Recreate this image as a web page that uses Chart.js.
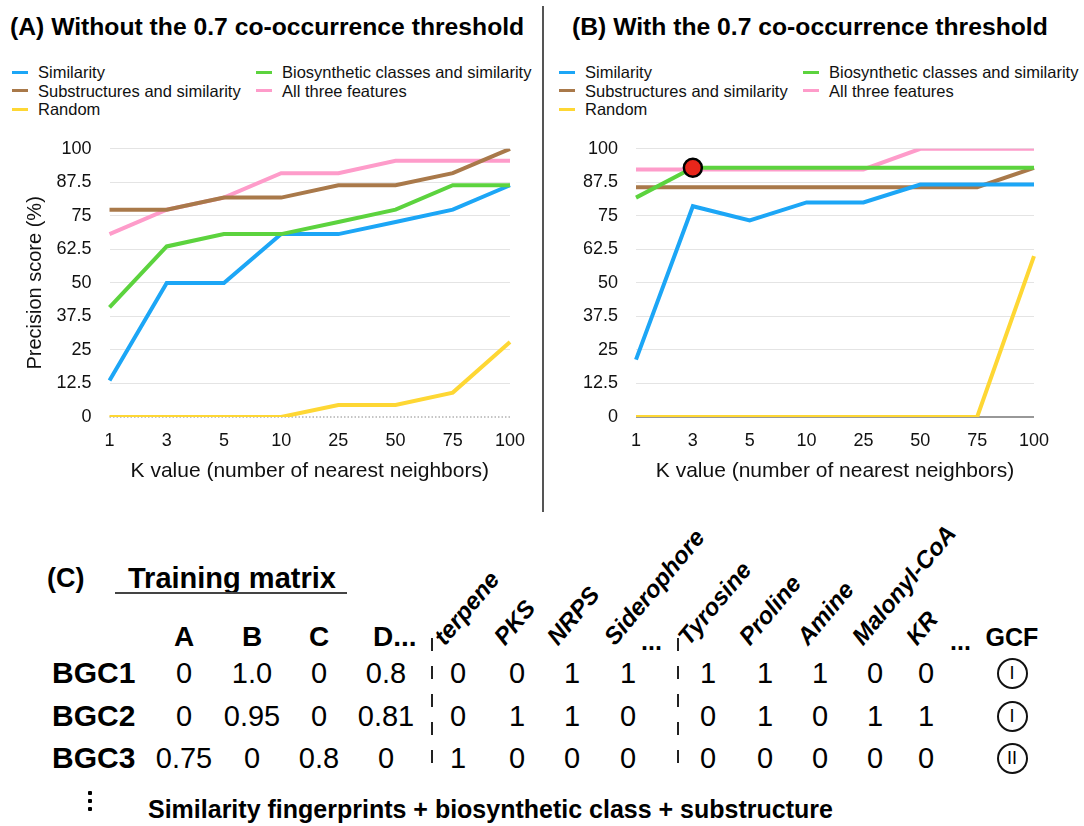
<!DOCTYPE html>
<html>
<head>
<meta charset="utf-8">
<script src="https://cdn.jsdelivr.net/npm/chart.js@4.4.1/dist/chart.umd.min.js"></script>
<style>
  html, body { margin: 0; padding: 0; background: #fff; }
  body { width: 1084px; height: 826px; position: relative; overflow: hidden;
         font-family: "Liberation Sans", Arial, Helvetica, sans-serif; color: #000; }
  .abs { position: absolute; white-space: nowrap; line-height: 1; }
  .panel-title { font-weight: bold; font-size: 24.7px; }
  .legend { position: absolute; display: grid; font-size: 16.5px; line-height: 18.5px; color: #111; }
  .legend .item { display: flex; align-items: center; white-space: nowrap; }
  .legend .sw { display: inline-block; width: 16px; height: 3px; margin-right: 10px; }
  .chart-box { position: absolute; }
  .divider { position: absolute; left: 542px; top: 6px; width: 1.5px; height: 506px; background: #555; }
  .dash { position: absolute; width: 2px;
          background: repeating-linear-gradient(to bottom, #222 0 13px, transparent 13px 28px); }
  .gcf-circle { position: absolute; width: 27px; height: 27px; border: 2px solid #111; border-radius: 50%;
                display: flex; align-items: center; justify-content: center; font-size: 18px; line-height: 1; }
  .vdot { position: absolute; width: 4px; height: 4px; background: #000; border-radius: 1px; }
</style>
</head>
<body>

<div class="abs panel-title" style="left:10px; top:15px;">(A) Without the 0.7 co-occurrence threshold</div>
<div class="abs panel-title" style="left:572px; top:15px;">(B) With the 0.7 co-occurrence threshold</div>
<div class="divider"></div>

<div class="legend" id="legendA" style="left:12px; top:63px; grid-template-columns:244px auto;"></div>
<div class="legend" id="legendB" style="left:559px; top:63px; grid-template-columns:244px auto;"></div>

<div class="chart-box" style="left:0px; top:120px; width:540px; height:372px;">
  <canvas id="chartA" width="540" height="372"></canvas>
</div>
<div class="chart-box" style="left:545px; top:120px; width:539px; height:372px;">
  <canvas id="chartB" width="539" height="372"></canvas>
</div>

<div id="matrix"></div>

<script>
// ---- Precision data: K values on the x axis, precision (%) per feature set ----
const kValues = ['1', '3', '5', '10', '25', '50', '75', '100'];
const seriesNames = ['Similarity', 'Biosynthetic classes and similarity',
                     'Substructures and similarity', 'All three features', 'Random'];
const seriesColors = ['#1ca6f6', '#5cd33e', '#a9794a', '#fe9cca', '#fed734'];

// (A) without the co-occurrence threshold
const similarityA    = [13.6, 50, 50, 68.2, 68.2, 72.7, 77.3, 86.4];
const biosyntheticA  = [40.9, 63.6, 68.2, 68.2, 72.7, 77.3, 86.4, 86.4];
const substructuresA = [77.3, 77.3, 81.8, 81.8, 86.4, 86.4, 90.9, 100];
const allThreeA      = [68.2, 77.3, 81.8, 90.9, 90.9, 95.5, 95.5, 95.5];
const randomA        = [0, 0, 0, 0, 4.5, 4.5, 9.1, 28];

// (B) with the 0.7 co-occurrence threshold
const similarityB    = [21.4, 78.6, 73.3, 80, 80, 86.7, 86.7, 86.7];
const biosyntheticB  = [81.8, 92.9, 92.9, 92.9, 92.9, 92.9, 92.9, 92.9];
const substructuresB = [85.7, 85.7, 85.7, 85.7, 85.7, 85.7, 85.7, 92.9];
const allThreeB      = [92.3, 92.3, 92.3, 92.3, 92.3, 100, 100, 100];
const randomB        = [0, 0, 0, 0, 0, 0, 0, 60];
const highlightIndexB = 1;   // K = 3, best biosynthetic-class result

// ---- Training matrix contents ----
const fingerprintCols = ['A', 'B', 'C', 'D'];
const classCols = ['terpene', 'PKS', 'NRPS', 'Siderophore'];
const substructureCols = ['Tyrosine', 'Proline', 'Amine', 'Malonyl-CoA', 'KR'];
const bgcNames = ['BGC1', 'BGC2', 'BGC3'];
const fingerprintVals = [['0', '1.0', '0', '0.8'], ['0', '0.95', '0', '0.81'], ['0.75', '0', '0.8', '0']];
const classVals = [[0, 0, 1, 1], [0, 1, 1, 0], [1, 0, 0, 0]];
const substructureVals = [[1, 1, 1, 0, 0], [0, 1, 0, 1, 1], [0, 0, 0, 0, 0]];
const gcfLabels = ['I', 'I', 'II'];
const matrixCaption = 'Similarity fingerprints + biosynthetic class + substructure';

Chart.defaults.font.family = '"Liberation Sans", Arial, Helvetica, sans-serif';
Chart.defaults.color = '#111';

// draws the y = 0 reference line beneath the series
const zeroLine = {
  id: 'zeroLine',
  beforeDatasetsDraw(chart, args, opts) {
    const y = chart.scales.y.getPixelForValue(0);
    const { left, right } = chart.chartArea;
    const ctx = chart.ctx;
    ctx.save();
    ctx.strokeStyle = opts.color;
    ctx.lineWidth = opts.width;
    ctx.setLineDash(opts.dash || []);
    ctx.beginPath();
    ctx.moveTo(left, y);
    ctx.lineTo(right, y);
    ctx.stroke();
    ctx.restore();
  }
};

// green on top, then blue, brown, pink, yellow
const drawOrder = [2, 1, 3, 4, 5];

function buildDatasets(values, pointOpts) {
  return values.map((v, i) => {
    const ds = {
      label: seriesNames[i],
      data: v,
      borderColor: seriesColors[i],
      backgroundColor: seriesColors[i],
      borderWidth: 4,
      tension: 0,
      fill: false,
      pointRadius: 0,
      order: drawOrder[i]
    };
    if (pointOpts && pointOpts.series === i) {
      ds.pointRadius = ctx => ctx.dataIndex === pointOpts.index ? 9 : 0;
      ds.pointBackgroundColor = '#e8261b';
      ds.pointBorderColor = '#000';
      ds.pointBorderWidth = 2.5;
    }
    return ds;
  });
}

function makeChart(id, datasets, cfg) {
  const yScale = {
    min: 0, max: 100,
    ticks: { stepSize: 12.5, font: { size: 18 }, padding: cfg.tickPad, color: '#111' },
    grid: { drawTicks: false, lineWidth: 1,
            color: c => (c.tick && c.tick.value === 0) ? 'rgba(0,0,0,0)' : '#e4e4e4' },
    border: { display: false },
    afterFit: s => { s.width = cfg.yWidth; }
  };
  if (cfg.yTitle) {
    yScale.title = { display: true, text: cfg.yTitle, font: { size: 20 }, color: '#111', padding: { top: 0, bottom: 0 } };
  }
  return new Chart(document.getElementById(id), {
    type: 'line',
    data: { labels: kValues, datasets },
    options: {
      responsive: false, animation: false, devicePixelRatio: 1,
      layout: { padding: cfg.padding },
      plugins: { legend: { display: false }, tooltip: { enabled: false }, zeroLine: cfg.zero },
      scales: {
        x: {
          grid: { display: false }, border: { display: false },
          ticks: { font: { size: 18 }, padding: 5, color: '#111', maxRotation: 0, autoSkip: false },
          title: { display: true, text: 'K value (number of nearest neighbors)', font: { size: 21 },
                   color: '#111', padding: { top: 0, bottom: 8 } },
          afterFit: s => { s.height = 75; }
        },
        y: yScale
      }
    },
    plugins: [zeroLine]
  });
}

function buildLegend(chart, el) {
  chart.data.datasets.forEach(ds => {
    const item = document.createElement('div');
    item.className = 'item';
    const sw = document.createElement('span');
    sw.className = 'sw';
    sw.style.background = ds.borderColor;
    item.appendChild(sw);
    item.appendChild(document.createTextNode(ds.label));
    el.appendChild(item);
  });
}

const chartA = makeChart('chartA',
  buildDatasets([similarityA, biosyntheticA, substructuresA, allThreeA, randomA]),
  { padding: { left: 23, top: 24, right: 30, bottom: 0 }, yWidth: 86.5, tickPad: 18,
    yTitle: 'Precision score (%)', zero: { color: '#8a8a8a', width: 1, dash: [1.5, 2] } });

const chartB = makeChart('chartB',
  buildDatasets([similarityB, biosyntheticB, substructuresB, allThreeB, randomB],
                { series: 1, index: highlightIndexB }),
  { padding: { left: 0, top: 24, right: 50, bottom: 0 }, yWidth: 91, tickPad: 18,
    yTitle: null, zero: { color: '#333', width: 1.2, dash: [] } });

buildLegend(chartA, document.getElementById('legendA'));
buildLegend(chartB, document.getElementById('legendB'));

// ---- (C) training matrix, laid out as positioned text ----
const M = {
  rowY: [673, 716, 758],
  rowLabelX: 52,
  fpX: [184, 252, 319, 386],
  classX: [458, 517, 572, 628],
  subX: [708, 765, 820, 875, 926],
  gcfX: 1012,
  headerY: 637,
  rotBaseY: 649,
  dividerX: [432, 678]
};
const rotShift = [-10, -9, -11, -10, -16, -12, -9, -9, -6];
const root = document.getElementById('matrix');

function put(text, x, y, style, align) {
  const d = document.createElement('div');
  d.className = 'abs';
  d.textContent = text;
  Object.assign(d.style, style);
  d.style.left = x + 'px';
  d.style.top = y + 'px';
  d.style.transform = align === 'left' ? 'translateY(-50%)' : 'translate(-50%,-50%)';
  root.appendChild(d);
  return d;
}
function putRotated(text, x, y) {
  const d = document.createElement('div');
  d.className = 'abs';
  d.textContent = text;
  Object.assign(d.style, { fontWeight: 'bold', fontStyle: 'italic', fontSize: '24px',
    left: x + 'px', top: (y - 24) + 'px', transformOrigin: '0% 100%', transform: 'rotate(-50deg)' });
  root.appendChild(d);
}

const bold = sz => ({ fontWeight: 'bold', fontSize: sz + 'px' });
const reg = sz => ({ fontSize: sz + 'px' });

put('(C)', 47, 578, bold(27), 'left');
put('Training matrix', 128, 578, bold(29), 'left');
const ul = document.createElement('div');
Object.assign(ul.style, { position: 'absolute', left: '115px', top: '592px', width: '232px', height: '1.5px', background: '#444' });
root.appendChild(ul);

// column headers
fingerprintCols.forEach((c, i) => {
  if (i === fingerprintCols.length - 1) put(c + '...', M.fpX[i] - 13, M.headerY, bold(28), 'left');
  else put(c, M.fpX[i], M.headerY, bold(28));
});
classCols.forEach((c, i) => putRotated(c, M.classX[i] + rotShift[i], M.rotBaseY));
put('...', 641, M.headerY + 4, bold(25), 'left');
substructureCols.forEach((c, i) => putRotated(c, M.subX[i] + rotShift[i + classCols.length], M.rotBaseY));
put('...', 950, M.headerY + 4, bold(25), 'left');
put('GCF', M.gcfX, M.headerY, bold(25));

// rows
bgcNames.forEach((name, r) => {
  const y = M.rowY[r];
  put(name, M.rowLabelX, y, bold(30), 'left');
  fingerprintVals[r].forEach((v, i) => put(v, M.fpX[i], y, reg(29)));
  classVals[r].forEach((v, i) => put(String(v), M.classX[i], y, reg(29)));
  substructureVals[r].forEach((v, i) => put(String(v), M.subX[i], y, reg(29)));
  const c = document.createElement('div');
  c.className = 'gcf-circle';
  c.textContent = gcfLabels[r];
  c.style.left = (M.gcfX - 15.5) + 'px';
  c.style.top = (y - 15.5) + 'px';
  root.appendChild(c);
});

// dashed separators between feature groups
M.dividerX.forEach(x => {
  const d = document.createElement('div');
  d.className = 'dash';
  d.style.left = (x - 1) + 'px';
  d.style.top = '638px';
  d.style.height = '138px';
  root.appendChild(d);
});

// vertical ellipsis and caption
[793, 801, 809].forEach(y => {
  const d = document.createElement('div');
  d.className = 'vdot';
  d.style.left = '88px';
  d.style.top = (y - 2) + 'px';
  root.appendChild(d);
});
put(matrixCaption, 148, 809, bold(25), 'left');
</script>
</body>
</html>
